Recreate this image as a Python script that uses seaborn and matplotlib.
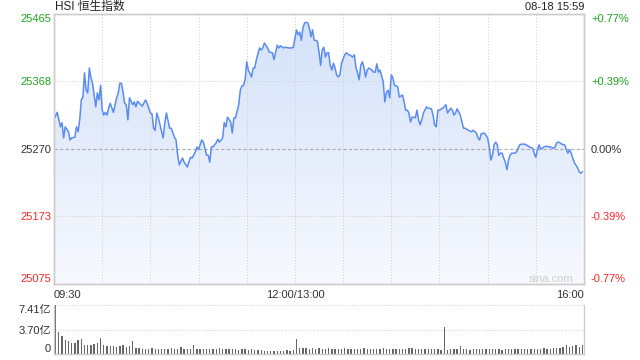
import numpy as np
import matplotlib
matplotlib.use("Agg")
import matplotlib.pyplot as plt
from matplotlib.colors import LinearSegmentedColormap
import seaborn as sns

# trading minutes since 09:30 (lunch break removed, 150 = 13:00)
t_min = [0, 2, 4, 5, 6, 7, 9, 10, 11, 13, 14, 15, 16, 17, 18, 19, 20, 21, 22, 23, 24, 26, 27, 28, 29,
         30, 31, 32, 33, 34, 35, 37, 39, 40, 41, 42, 43, 44, 45, 46, 47, 49, 50, 51, 52, 54, 55, 57, 58,
         60, 61, 62, 63, 64, 65, 67, 68, 69, 70, 72, 73, 75, 76, 77, 78, 80, 81, 83, 85, 86, 88, 89, 90,
         92, 93, 95, 96, 97, 98, 99, 101, 102, 103, 105, 106, 107, 108, 110, 111, 112, 113, 115, 116,
         117, 118, 119, 120, 121, 123, 124, 125, 126, 128, 129, 130, 131, 133, 134, 136, 137, 138, 139,
         140, 141, 143, 144, 146, 148, 149,
         150, 151, 152, 153, 154, 155, 156, 157, 158, 159, 160, 161, 162, 163, 164, 165, 166, 167, 168,
         169, 170, 171, 172, 173, 174, 175, 176, 177, 178, 179, 181, 182, 183, 184, 186, 187, 188, 189,
         190, 191, 192, 193, 194, 195, 196, 198, 199, 200, 201, 202, 203, 205, 206, 207, 208, 209, 210,
         211, 212, 214, 215, 217, 218, 219, 220, 221, 222, 223, 224, 225, 226, 227, 228, 229, 230, 232,
         233, 235, 236, 237, 238, 239, 240, 242, 243, 244, 245, 247, 248, 249, 250, 251, 253, 254, 255,
         256, 258, 260, 261, 263, 264, 265, 266, 268, 270, 271, 272, 273, 274, 275, 276, 277, 278, 279,
         280, 281, 282, 283, 284, 285, 286, 287, 288, 289, 290, 291, 293, 294, 296, 298, 299, 300, 301,
         302, 303, 304, 305, 307, 308, 309, 311, 312, 313, 314, 315, 316, 318, 319, 320, 321, 322, 323,
         324, 326, 327, 328, 329]
price = [25313, 25323, 25302, 25308, 25286, 25302, 25295, 25283, 25286, 25287, 25302, 25295, 25312, 25341,
         25345, 25380, 25355, 25351, 25387, 25373, 25365, 25331, 25351, 25341, 25362,
         25326, 25319, 25323, 25319, 25329, 25336, 25323, 25344, 25351, 25365, 25365, 25352, 25336, 25334,
         25312, 25344, 25334, 25338, 25331, 25339, 25334, 25332, 25341, 25336,
         25322, 25321, 25300, 25297, 25322, 25315, 25295, 25286, 25308, 25322, 25300, 25300, 25287, 25283,
         25261, 25247, 25257, 25251, 25244, 25258, 25257, 25266, 25273, 25269,
         25283, 25280, 25261, 25261, 25251, 25273, 25273, 25279, 25284, 25280, 25286, 25308, 25302, 25316,
         25309, 25293, 25315, 25315, 25334, 25355,
         25361, 25362, 25370, 25396, 25384, 25374, 25387, 25387, 25399, 25416, 25413, 25416, 25423, 25416,
         25410, 25409, 25399, 25410, 25420,
         25416, 25419, 25416, 25417, 25416, 25416, 25417,
         25430, 25442, 25435, 25439, 25427, 25445, 25452, 25453, 25452, 25445, 25432, 25442, 25427, 25427,
         25426, 25410, 25391, 25413, 25417,
         25403, 25409, 25409, 25391, 25384, 25394, 25387, 25377, 25374, 25377, 25394, 25406, 25409, 25407,
         25406, 25403, 25406, 25388, 25380,
         25370, 25391, 25396, 25388, 25374, 25384, 25387, 25384, 25381, 25381, 25393, 25381, 25384, 25367,
         25338, 25352, 25355, 25344, 25377,
         25373, 25362, 25360, 25345, 25348, 25338, 25326, 25326, 25322, 25309, 25316, 25316, 25315, 25326,
         25312, 25305, 25312, 25322, 25331,
         25329, 25328, 25319, 25305, 25302, 25326, 25326, 25329, 25331, 25334, 25322, 25329, 25326, 25319,
         25322, 25328, 25319, 25309, 25300,
         25300, 25297, 25295, 25297, 25293, 25286, 25283, 25292, 25293, 25286, 25273, 25254, 25261, 25276,
         25280, 25276, 25261, 25264, 25264,
         25257, 25251, 25240, 25254, 25261, 25264, 25264, 25264, 25266, 25271, 25276, 25277, 25277, 25276,
         25273, 25271, 25264, 25258, 25269,
         25276, 25270, 25271, 25273, 25274, 25273, 25273, 25271, 25273, 25279, 25280, 25279, 25277, 25276,
         25269, 25264, 25269, 25264, 25257,
         25250, 25243, 25237, 25235, 25237]

# turnover per 2-minute bin, in 亿
volume = [7.41, 3.3, 2.65, 2.15, 2.0, 1.65, 1.6, 2.15, 2.3, 1.35, 1.3, 1.4, 1.5, 1.6, 2.45, 1.3, 1.25,
          1.15, 1.25, 1.0, 1.2, 1.4, 1.05, 1.15, 1.9, 0.9,
          0.85, 0.8, 0.75, 0.8, 0.85, 0.75, 0.8, 0.7, 0.8, 0.75, 0.85, 0.7, 0.8,
          1.05, 0.7, 0.8, 0.75, 1.4,
          0.75, 0.7, 0.8, 0.75, 0.7, 0.8, 0.75, 0.85, 0.7, 0.75, 0.8, 0.7, 0.75, 0.65, 0.7, 0.75, 0.6,
          0.7, 0.65, 0.6, 0.55,
          0.45, 0.4, 0.5, 0.45, 0.4, 0.5, 0.45, 0.55, 0.5, 0.6,
          2.3,
          0.95, 0.85, 0.9, 0.8, 0.85, 0.75, 0.9, 0.8, 0.7, 0.85, 0.75, 0.8, 0.7, 0.75, 0.85, 0.7, 0.8,
          0.75, 0.7, 0.8, 0.9, 0.75, 0.7, 0.8, 0.75, 0.7, 0.85, 0.75, 0.7, 0.8, 0.75, 0.7, 0.8, 0.75,
          0.85, 0.9, 0.8, 0.75, 0.7, 0.8, 0.75, 0.7, 0.75, 0.8, 0.6,
          4.05,
          0.65, 0.7, 0.75, 0.7, 1.15, 0.7, 0.75, 0.65, 0.7, 0.75, 0.7, 0.8, 0.75, 0.7, 0.8, 0.75, 0.7,
          0.65, 0.7, 0.75, 0.7, 0.8, 0.75, 0.7, 0.75, 0.8, 0.75, 0.7, 0.8, 0.75, 0.85, 0.8, 0.75, 0.9,
          0.85, 0.95,
          1.1, 1.4, 1.0, 1.25, 1.3, 1.1, 1.4]

price_ticks = [25075, 25173, 25270, 25368, 25465]
pct_labels = ["-0.77%", "-0.39%", "0.00%", "+0.39%", "+0.77%"]
vol_ticks = [0, 3.70, 7.41]
vol_labels = ["0", "3.70亿", "7.41亿"]
time_ticks = [0, 150, 330]
time_labels = ["09:30", "12:00/13:00", "16:00"]

GREEN, RED, DARK = "#1ea51e", "#ff2626", "#333333"
tick_colors = [RED, RED, DARK, GREEN, GREEN]
LINE = "#5a8cf0"
GRID = "#cccccc"

sns.set_style("white")
plt.rcParams["font.family"] = ["Liberation Sans", "Noto Sans CJK SC", "DejaVu Sans"]

fig = plt.figure(figsize=(6.4, 3.6), dpi=100)
ax = fig.add_axes([54 / 640, 1 - 284 / 360, 530 / 640, 270 / 360])
vax = fig.add_axes([54 / 640, 1 - 354 / 360, 530 / 640, 49 / 360])

# price line with gradient fill underneath
sns.lineplot(x=t_min, y=price, ax=ax, color=LINE, linewidth=1.1, estimator=None, zorder=3)
fill = ax.fill_between(t_min, price, price_ticks[0], color="none", lw=0)
grad = np.linspace(0, 1, 256).reshape(-1, 1)
cmap = LinearSegmentedColormap.from_list("fill", ["#f7f9fe", "#d3e1f9"])
img = ax.imshow(grad, extent=[0, 330, price_ticks[0], price_ticks[-1]], origin="lower",
                aspect="auto", cmap=cmap, zorder=1)
img.set_clip_path(fill.get_paths()[0], transform=ax.transData)

ax.set_xlim(0, 330)
ax.set_ylim(price_ticks[0], price_ticks[-1])
for t in range(30, 330, 30):
    ax.axvline(t, color=GRID, lw=0.7, ls=(0, (1, 2)), zorder=2)
for p in (price_ticks[1], price_ticks[3]):
    ax.axhline(p, color=GRID, lw=0.7, ls=(0, (1, 2)), zorder=2)
ax.axhline(price_ticks[2], color="#aaaaaa", lw=0.8, ls=(0, (3, 2)), zorder=2)

ax.set_yticks(price_ticks)
ax.set_yticklabels([str(v) for v in price_ticks], fontsize=8)
ax.tick_params(axis="y", length=0, pad=2)
for lab, c in zip(ax.get_yticklabels(), tick_colors):
    lab.set_color(c)
ax.get_yticklabels()[0].set_va("bottom")
ax.get_yticklabels()[-1].set_va("top")

ax.set_xticks(time_ticks)
ax.set_xticklabels(time_labels, fontsize=8, color=DARK)
ax.tick_params(axis="x", length=0, pad=4)
ax.get_xticklabels()[0].set_ha("left")
ax.get_xticklabels()[-1].set_ha("right")
ax.set_xlabel("")
ax.set_ylabel("")

ax2 = ax.twinx()
ax2.set_ylim(price_ticks[0], price_ticks[-1])
ax2.set_yticks(price_ticks)
ax2.set_yticklabels(pct_labels, fontsize=8)
ax2.tick_params(axis="y", length=0, pad=5)
for lab, c in zip(ax2.get_yticklabels(), tick_colors):
    lab.set_color(c)
ax2.get_yticklabels()[0].set_va("bottom")
ax2.get_yticklabels()[-1].set_va("top")

for a in (ax, ax2):
    for s in a.spines.values():
        s.set_color(GRID)
        s.set_linewidth(1)

ax.text(0.979, 0.02, "sina.com", transform=ax.transAxes, ha="right", va="center",
        fontsize=8, color="#cccccc")

# volume panel
bar_t = np.arange(len(volume)) * 2 + 1
sns.barplot(x=bar_t, y=volume, ax=vax, native_scale=True, width=0.42, color="#666666",
            saturation=1, errorbar=None, linewidth=0)
vax.set_xlim(0, 330)
vax.set_ylim(0, vol_ticks[-1])
vax.set_xticks([])
vax.set_yticks(vol_ticks)
vax.set_yticklabels(vol_labels, fontsize=8, color=DARK)
vax.tick_params(axis="y", length=0, pad=2)
vax.get_yticklabels()[0].set_va("bottom")
vax.get_yticklabels()[-1].set_va("top")
for v in vol_ticks[1:]:
    vax.axhline(v, color=GRID, lw=0.7, ls=(0, (1, 2)), zorder=0)
vax.spines["top"].set_visible(False)
for s in ("left", "right", "bottom"):
    vax.spines[s].set_color(GRID)
    vax.spines[s].set_linewidth(1)
vax.set_xlabel("")
vax.set_ylabel("")

fig.text(55 / 640, 1 - 7 / 360, "HSI 恒生指数", ha="left", va="center", fontsize=8.5, color="#222222")
fig.text(584 / 640, 1 - 7 / 360, "08-18 15:59", ha="right", va="center", fontsize=8, color="#222222")

fig.savefig("out.png", dpi=100)
